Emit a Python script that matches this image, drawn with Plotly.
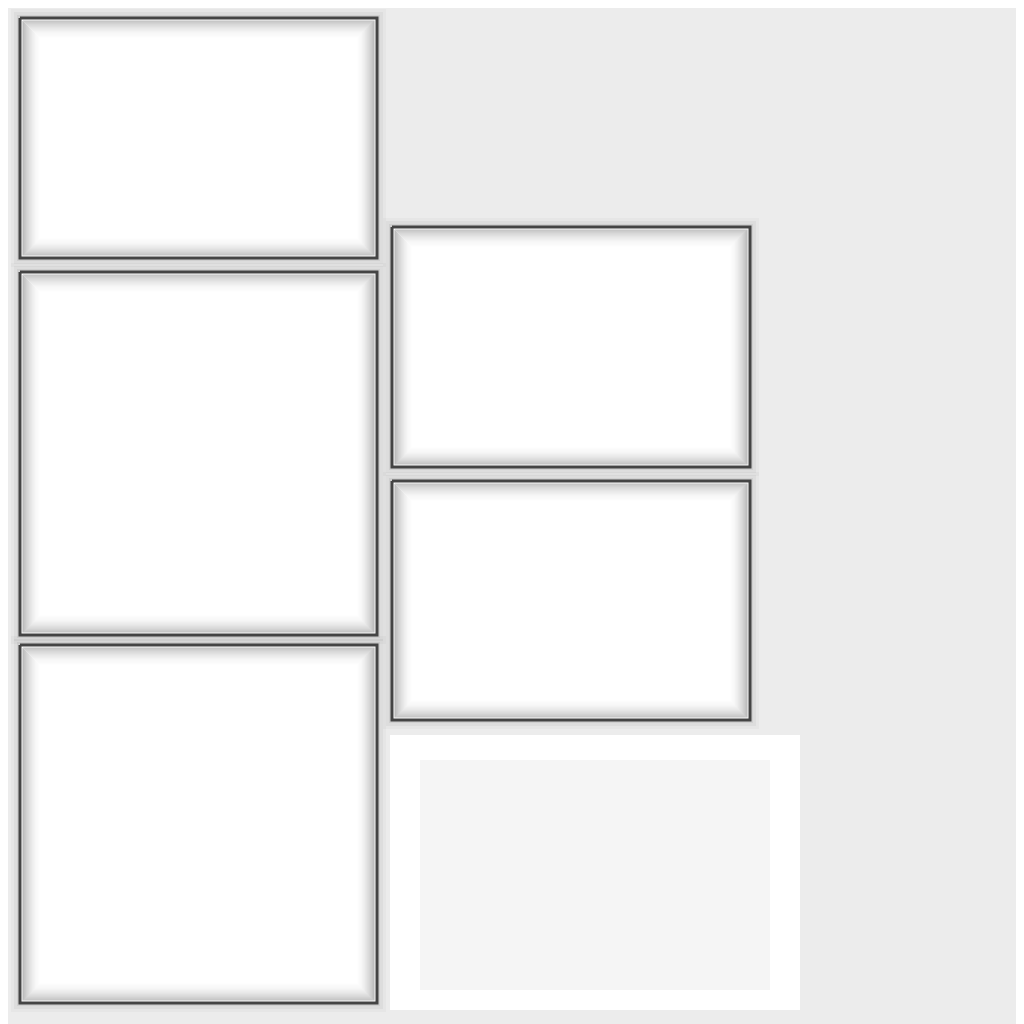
import plotly.graph_objects as go

# rectangle boxes in pixel coordinates (left, right, top, bottom)
box_x0 = [20, 20, 20, 392, 392]
box_x1 = [377, 377, 377, 750, 750]
box_y0 = [18, 272, 645, 227, 481]
box_y1 = [258, 635, 1003, 467, 720]

# the faint box at the lower right
faint_x0, faint_x1, faint_y0, faint_y1 = 390, 800, 735, 1010

fig = go.Figure()


def rect(x0, x1, y0, y1, fill=None, line=None, width=0):
    fig.add_trace(go.Scatter(
        x=[x0, x1, x1, x0, x0], y=[y0, y0, y1, y1, y0],
        mode="lines", fill="toself" if fill else None,
        fillcolor=fill, line=dict(color=line or "rgba(0,0,0,0)", width=width),
        hoverinfo="skip", showlegend=False))


# soft shadow around each box
for a, b, c, d in zip(box_x0, box_x1, box_y0, box_y1):
    for k, op in [(9, 0.025), (6, 0.04), (3, 0.06)]:
        rect(a - k, b + k, c - k, d + k, fill=f"rgba(0,0,0,{op})")

rect(faint_x0, faint_x1, faint_y0, faint_y1, fill="#ffffff")
rect(faint_x0 + 30, faint_x1 - 30, faint_y0 + 25, faint_y1 - 20, fill="#f5f5f5")

for a, b, c, d in zip(box_x0, box_x1, box_y0, box_y1):
    rect(a, b, c, d, fill="#ffffff", line="#444444", width=3)
    # blurred inner edge
    for k in range(3, 22):
        op = 0.32 * (1 - (k - 3) / 19) ** 2
        rect(a + k, b - k, c + k, d - k, line=f"rgba(60,60,60,{op:.3f})", width=1.2)

fig.update_layout(
    width=1024, height=1024, margin=dict(l=0, r=0, t=0, b=0),
    paper_bgcolor="#ececec", plot_bgcolor="#ececec",
    xaxis=dict(range=[8, 1032], visible=False, fixedrange=True),
    yaxis=dict(range=[1032, 8], visible=False, fixedrange=True),
)
fig.write_html("out.html")
